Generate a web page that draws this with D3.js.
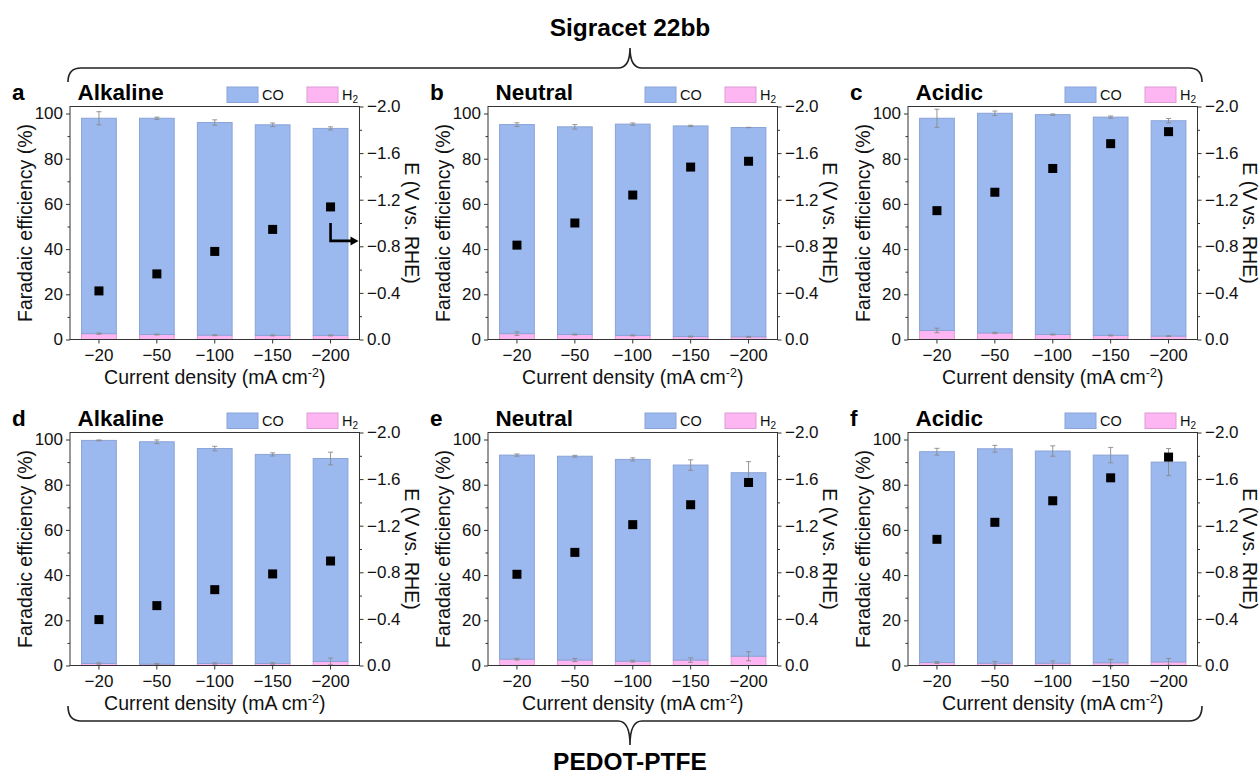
<!DOCTYPE html>
<html><head><meta charset="utf-8">
<script src="https://cdn.jsdelivr.net/npm/d3@7"></script>
<style>body{margin:0;background:#fff} svg{font-family:"Liberation Sans",Arial,sans-serif}</style>
</head><body><svg id="c" width="1260" height="775"></svg>
<script>
const categories = ["−20","−50","−100","−150","−200"];
const panelLetters = ["a","b","c","d","e","f"];
const panelTitles = ["Alkaline","Neutral","Acidic","Alkaline","Neutral","Acidic"];
const groupLabels = ["Sigracet 22bb","PEDOT-PTFE"];
const feTicks = [0,20,40,60,80,100];
const feMinor = [10,30,50,70,90];
const eTicks = [0,-0.4,-0.8,-1.2,-1.6,-2.0];
const eMinor = [-0.2,-0.6,-1.0,-1.4,-1.8];
const seriesNames = ["CO","H2"];

// Faradaic efficiency of CO (stacked above H2), %
const coFE = [
  [95.3,95.7,94.1,93.2,91.6],
  [92.5,91.9,93.5,93.2,92.6],
  [93.9,97.2,97.3,96.6,95.3],
  [98.7,98.4,95.1,92.5,89.8],
  [90.3,90.2,89.3,86.3,81.2],
  [93.3,94.9,93.9,91.9,88.4]
];
const coErr = [
  [2.9,0.5,1.2,0.8,0.7],
  [0.8,1.0,0.5,0.3,0.1],
  [4.0,1.0,0.3,0.5,1.0],
  [0.2,0.8,1.0,0.7,2.8],
  [0.5,0.4,0.7,2.3,4.9],
  [1.5,1.5,2.3,3.4,6.0]
];
const h2FE = [
  [2.6,2.2,1.9,1.8,1.8],
  [2.6,2.2,1.8,1.3,1.2],
  [4.0,2.9,2.2,1.8,1.5],
  [0.9,0.6,0.9,0.9,1.8],
  [2.8,2.4,1.9,2.4,4.1],
  [1.3,1.0,1.0,1.2,1.6]
];
const h2Err = [
  [0.3,0.2,0.2,0.2,0.2],
  [0.8,0.2,0.2,0.2,0.2],
  [1.0,0.3,0.2,0.2,0.2],
  [0.3,0.3,0.3,0.3,1.5],
  [0.4,0.7,0.4,1.0,2.0],
  [0.4,0.8,1.0,1.5,1.5]
];
// Potential, V vs. RHE
const potE = [
  [-0.417,-0.563,-0.756,-0.945,-1.138],
  [-0.81,-1.00,-1.24,-1.48,-1.53],
  [-1.106,-1.264,-1.468,-1.681,-1.784],
  [-0.394,-0.514,-0.651,-0.786,-0.897],
  [-0.783,-0.971,-1.209,-1.38,-1.571],
  [-1.083,-1.229,-1.414,-1.611,-1.789]
];
const potErr = [
  [0,0,0,0.02,0.086],
  [0,0,0,0,0],
  [0,0,0,0,0],
  [0,0,0,0,0],
  [0,0.03,0.07,0.09,0.09],
  [0,0,0.02,0.06,0.08]
];

const svg = d3.select("#c");
const colLeft = [70, 488, 908];
const rowTop = [106.5, 432.5];
const W = 289.5, H = 233;
const coFill = "#9bb9ef", coStroke = "#8ba3d6";
const h2Fill = "#fdb6f2", h2Stroke = "#dc9bd6";
const errCol = "#8a8a8a";

for (let p = 0; p < 6; p++) {
  const L = colLeft[p % 3], T = rowTop[Math.floor(p / 3)];
  const g = svg.append("g").attr("transform", `translate(${L},${T})`);
  const x = d3.scaleBand().domain(categories).range([0, W]).paddingInner(0.4).paddingOuter(0.2);
  const y = d3.scaleLinear().domain([0, 103.1]).range([H, 0]);
  const yR = d3.scaleLinear().domain([0, -2.0]).range([H, 0]);

  const rows = categories.map((c, i) => ({cat: c, H2: h2FE[p][i], CO: coFE[p][i], h2e: h2Err[p][i], coe: coErr[p][i], E: potE[p][i], Ee: potErr[p][i]}));
  const stacked = d3.stack().keys(["H2", "CO"])(rows);
  const fills = {H2: h2Fill, CO: coFill}, strokes = {H2: h2Stroke, CO: coStroke};

  stacked.forEach(s => {
    g.append("g").selectAll("rect").data(s).join("rect")
      .attr("x", d => x(d.data.cat)).attr("width", x.bandwidth())
      .attr("y", d => y(d[1])).attr("height", d => y(d[0]) - y(d[1]))
      .attr("fill", fills[s.key]).attr("stroke", strokes[s.key]).attr("stroke-width", 1);
  });

  function errBar(cx, yc, e, scale, cap, col, sw) {
    if (e <= 0) return;
    const y1 = scale(yc + e), y2 = scale(yc - e);
    g.append("line").attr("x1", cx).attr("x2", cx).attr("y1", y1).attr("y2", y2).attr("stroke", col).attr("stroke-width", sw);
    g.append("line").attr("x1", cx - cap).attr("x2", cx + cap).attr("y1", y1).attr("y2", y1).attr("stroke", col).attr("stroke-width", sw);
    g.append("line").attr("x1", cx - cap).attr("x2", cx + cap).attr("y1", y2).attr("y2", y2).attr("stroke", col).attr("stroke-width", sw);
  }
  rows.forEach(r => {
    const cx = x(r.cat) + x.bandwidth() / 2;
    errBar(cx, r.H2, r.h2e, y, 2.5, errCol, 0.9);
    errBar(cx, r.H2 + r.CO, r.coe, y, 2.5, errCol, 0.9);
  });
  rows.forEach(r => {
    const cx = x(r.cat) + x.bandwidth() / 2;
    errBar(cx, r.E, -r.Ee, yR, 3, "#555", 0.9);
    g.append("rect").attr("x", cx - 4.5).attr("y", yR(r.E) - 4.5).attr("width", 9).attr("height", 9).attr("fill", "#000");
  });

  if (p === 0) {
    const last = rows[4];
    const cx = x(last.cat) + x.bandwidth() / 2;
    const y0 = yR(last.E) + 16, y1 = yR(last.E) + 34;
    g.append("path").attr("d", `M${cx},${y0} V${y1} H${W - 8}`).attr("fill", "none").attr("stroke", "#000").attr("stroke-width", 2.6);
    g.append("path").attr("d", `M${W - 9},${y1 - 4.5} L${W - 1},${y1} L${W - 9},${y1 + 4.5} Z`).attr("fill", "#000");
  }

  g.append("rect").attr("x", 0).attr("y", 0).attr("width", W).attr("height", H).attr("fill", "none").attr("stroke", "#333").attr("stroke-width", 1);

  const styleAxis = a => { a.select(".domain").remove(); a.selectAll("line").attr("stroke", "#333"); a.selectAll("text").attr("font-size", "17px").attr("fill", "#111"); };
  g.append("g").call(d3.axisLeft(y).tickValues(feTicks).tickSize(4).tickPadding(3)).call(styleAxis);
  g.append("g").call(d3.axisLeft(y).tickValues(feMinor).tickSize(2.5).tickFormat("")).call(styleAxis);
  g.append("g").attr("transform", `translate(${W},0)`).call(d3.axisRight(yR).tickValues(eTicks).tickSize(4).tickPadding(3.5).tickFormat(d => d3.format(".1f")(d).replace("-", "−"))).call(styleAxis);
  g.append("g").attr("transform", `translate(${W},0)`).call(d3.axisRight(yR).tickValues(eMinor).tickSize(2.5).tickFormat("")).call(styleAxis);
  g.append("g").attr("transform", `translate(0,${H})`).call(d3.axisBottom(x).tickSize(4).tickPadding(5.5)).call(styleAxis);

  g.append("text").attr("transform", `translate(-45,${H / 2}) rotate(-90)`).attr("text-anchor", "middle").attr("dy", "0.35em").attr("font-size", "19.5px").attr("fill", "#111").text("Faradaic efficiency (%)");
  g.append("text").attr("transform", `translate(${W + 52},${H / 2}) rotate(90)`).attr("text-anchor", "middle").attr("dy", "0.35em").attr("font-size", "19.5px").attr("fill", "#111").text("E (V vs. RHE)");
  const xt = g.append("text").attr("x", W / 2).attr("y", H + 44).attr("text-anchor", "middle").attr("font-size", "19.5px").attr("fill", "#111");
  xt.append("tspan").text("Current density (mA cm");
  xt.append("tspan").attr("font-size", "12.5px").attr("dy", "-7").text("-2");
  xt.append("tspan").attr("dy", "7").text(")");

  g.append("text").attr("x", -58).attr("y", -7).attr("font-size", "22.5px").attr("font-weight", "bold").text(panelLetters[p]);
  g.append("text").attr("x", 7.5).attr("y", -7).attr("font-size", "22.5px").attr("font-weight", "bold").text(panelTitles[p]);

  const lg = g.append("g").attr("transform", `translate(157,-19.5)`);
  lg.append("rect").attr("x", 0).attr("y", 0).attr("width", 31).attr("height", 15.5).attr("fill", coFill).attr("stroke", coStroke);
  lg.append("text").attr("x", 35).attr("y", 13).attr("font-size", "14.5px").attr("fill", "#111").text(seriesNames[0]);
  lg.append("rect").attr("x", 80).attr("y", 0).attr("width", 31).attr("height", 15.5).attr("fill", h2Fill).attr("stroke", h2Stroke);
  const ht = lg.append("text").attr("x", 115).attr("y", 13).attr("font-size", "14.5px").attr("fill", "#111");
  ht.append("tspan").text("H");
  ht.append("tspan").attr("font-size", "10px").attr("dy", "3").text("2");
}

const xl = 68, xr = 1202, xm = 630;
svg.append("path").attr("d", `M${xl},82 Q${xl},68 ${xl + 13},68 L${xm - 12},68 Q${xm},68 ${xm},48 Q${xm},68 ${xm + 12},68 L${xr - 13},68 Q${xr},68 ${xr},82`)
  .attr("fill", "none").attr("stroke", "#222").attr("stroke-width", 1.6);
svg.append("path").attr("d", `M${xl},706 Q${xl},721 ${xl + 13},721 L${xm - 12},721 Q${xm},721 ${xm},745 Q${xm},721 ${xm + 12},721 L${xr - 13},721 Q${xr},721 ${xr},706`)
  .attr("fill", "none").attr("stroke", "#222").attr("stroke-width", 1.6);
svg.append("text").attr("x", xm).attr("y", 36).attr("text-anchor", "middle").attr("font-size", "24.5px").attr("font-weight", "bold").text(groupLabels[0]);
svg.append("text").attr("x", xm).attr("y", 770).attr("text-anchor", "middle").attr("font-size", "24.5px").attr("font-weight", "bold").text(groupLabels[1]);
</script></body></html>
